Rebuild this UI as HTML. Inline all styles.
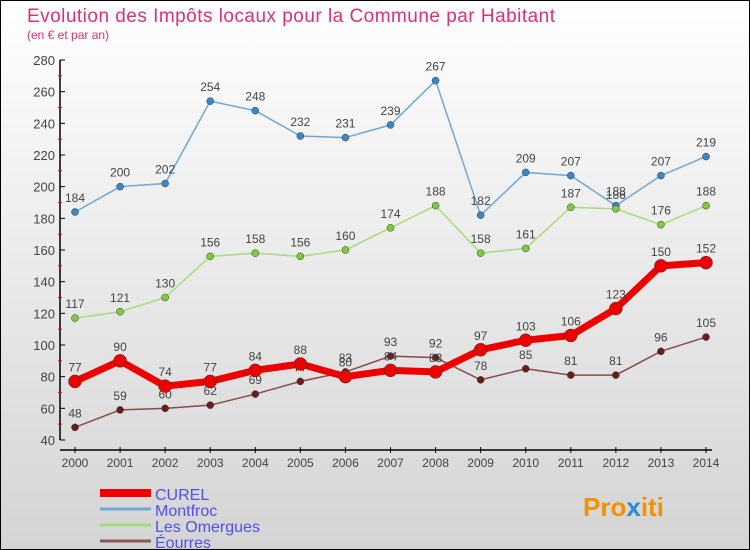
<!DOCTYPE html>
<html><head><meta charset="utf-8"><style>
body{margin:0}
#wrap{width:750px;height:550px;position:relative;font-family:"Liberation Sans",sans-serif;background:linear-gradient(#ffffff,#d4d4d4);box-sizing:border-box;border:1px solid #000;overflow:hidden}
</style></head><body>
<div id="wrap">
<svg id="svg" width="750" height="550" style="position:absolute;left:-1px;top:-1px">
<text x="27" y="22" font-size="19" fill="#e0306e" textLength="528">Evolution des Impôts locaux pour la Commune par Habitant</text>
<text x="27" y="39" font-size="12" fill="#e0306e">(en € et par an)</text>
<g id="axes"></g><g id="series"></g><g id="legend"></g>
<text x="583" y="516" font-size="26" font-weight="bold" fill="#f39200">Pro<tspan fill="#2a8ad4">x</tspan>iti</text>
</svg>
</div>
<script>
const years=[2000,2001,2002,2003,2004,2005,2006,2007,2008,2009,2010,2011,2012,2013,2014];
const yTicks=[40,60,80,100,120,140,160,180,200,220,240,260,280];
const curel=[77,90,74,77,84,88,80,84,83,97,103,106,123,150,152];
const montfroc=[184,200,202,254,248,232,231,239,267,182,209,207,188,207,219];
const omergues=[117,121,130,156,158,156,160,174,188,158,161,187,186,176,188];
const eourres=[48,59,60,62,69,77,83,93,92,78,85,81,81,96,105];
const NS='http://www.w3.org/2000/svg';
function X(i){return 75+i*(706-75)/(years.length-1);}
function Y(v){return 440-(v-40)*380/240;}
function mk(tag,at,parent){const e=document.createElementNS(NS,tag);for(const k in at)e.setAttribute(k,at[k]);parent.appendChild(e);return e;}
const ax=document.getElementById('axes');
let a=mk('line',{x1:60,y1:60,x2:60,y2:440,stroke:'#000','stroke-width':1.5},ax);

a=mk('line',{x1:60,y1:450,x2:712,y2:450,stroke:'#000','stroke-width':1.5},ax);

yTicks.forEach((t,i)=>{
 mk('line',{x1:60,y1:Y(t),x2:65,y2:Y(t),stroke:'#000'},ax);
 if(i<yTicks.length-1)mk('line',{x1:58,y1:Y(t+10),x2:62,y2:Y(t+10),stroke:'#f00'},ax);
 const tx=mk('text',{x:55,y:Y(t)+5,'font-size':13,fill:'#444','text-anchor':'end'},ax);tx.textContent=t;
 
});
years.forEach((yr,i)=>{
 mk('line',{x1:X(i),y1:447,x2:X(i),y2:453,stroke:'#000'},ax);
 const tx=mk('text',{x:X(i),y:467,'font-size':12,fill:'#444','text-anchor':'middle'},ax);tx.textContent=yr;
 
});
const sg=document.getElementById('series');
function series(name,data,color,w,r,dot){
 const g=mk('g',{},sg);
 
 mk('polyline',{points:data.map((v,i)=>X(i)+','+Y(v)).join(' '),fill:'none',stroke:color,'stroke-width':w,'stroke-linejoin':'round'},g);
 data.forEach((v,i)=>{
  const c=mk('circle',{cx:X(i),cy:Y(v),r:r,fill:dot,stroke:'#333','stroke-width':0.5},g);
  
  const t=mk('text',{x:X(i),y:Y(v)-10,'font-size':12,fill:'#444','text-anchor':'middle'},g);t.textContent=v;
  
 });
}
series('montfroc',montfroc,'#6fa8d6',1.5,3.5,'#3b86c6');
series('omergues',omergues,'#a6dc7e',1.5,3.5,'#7ccc3c');
series('eourres',eourres,'#8a4a4a',1.5,3.5,'#6a1c1c');
series('curel',curel,'#ee0000',7,6.5,'#ee0000');
const lg=document.getElementById('legend');
const leg=[['CUREL','#ee0000',8],['Montfroc','#6fa8d6',3],['Les Omergues','#a6dc7e',3],['Éourres','#8a5a5a',3]];
leg.forEach((l,i)=>{
 const y=493+i*16;
 const g=mk('g',{},lg);
 
 mk('line',{x1:100,y1:y,x2:151,y2:y,stroke:l[1],'stroke-width':l[2]},g);
 const t=mk('text',{x:155,y:y+7,'font-size':16,fill:'#5050f0'},g);t.textContent=l[0];
});
</script>
</body></html>
